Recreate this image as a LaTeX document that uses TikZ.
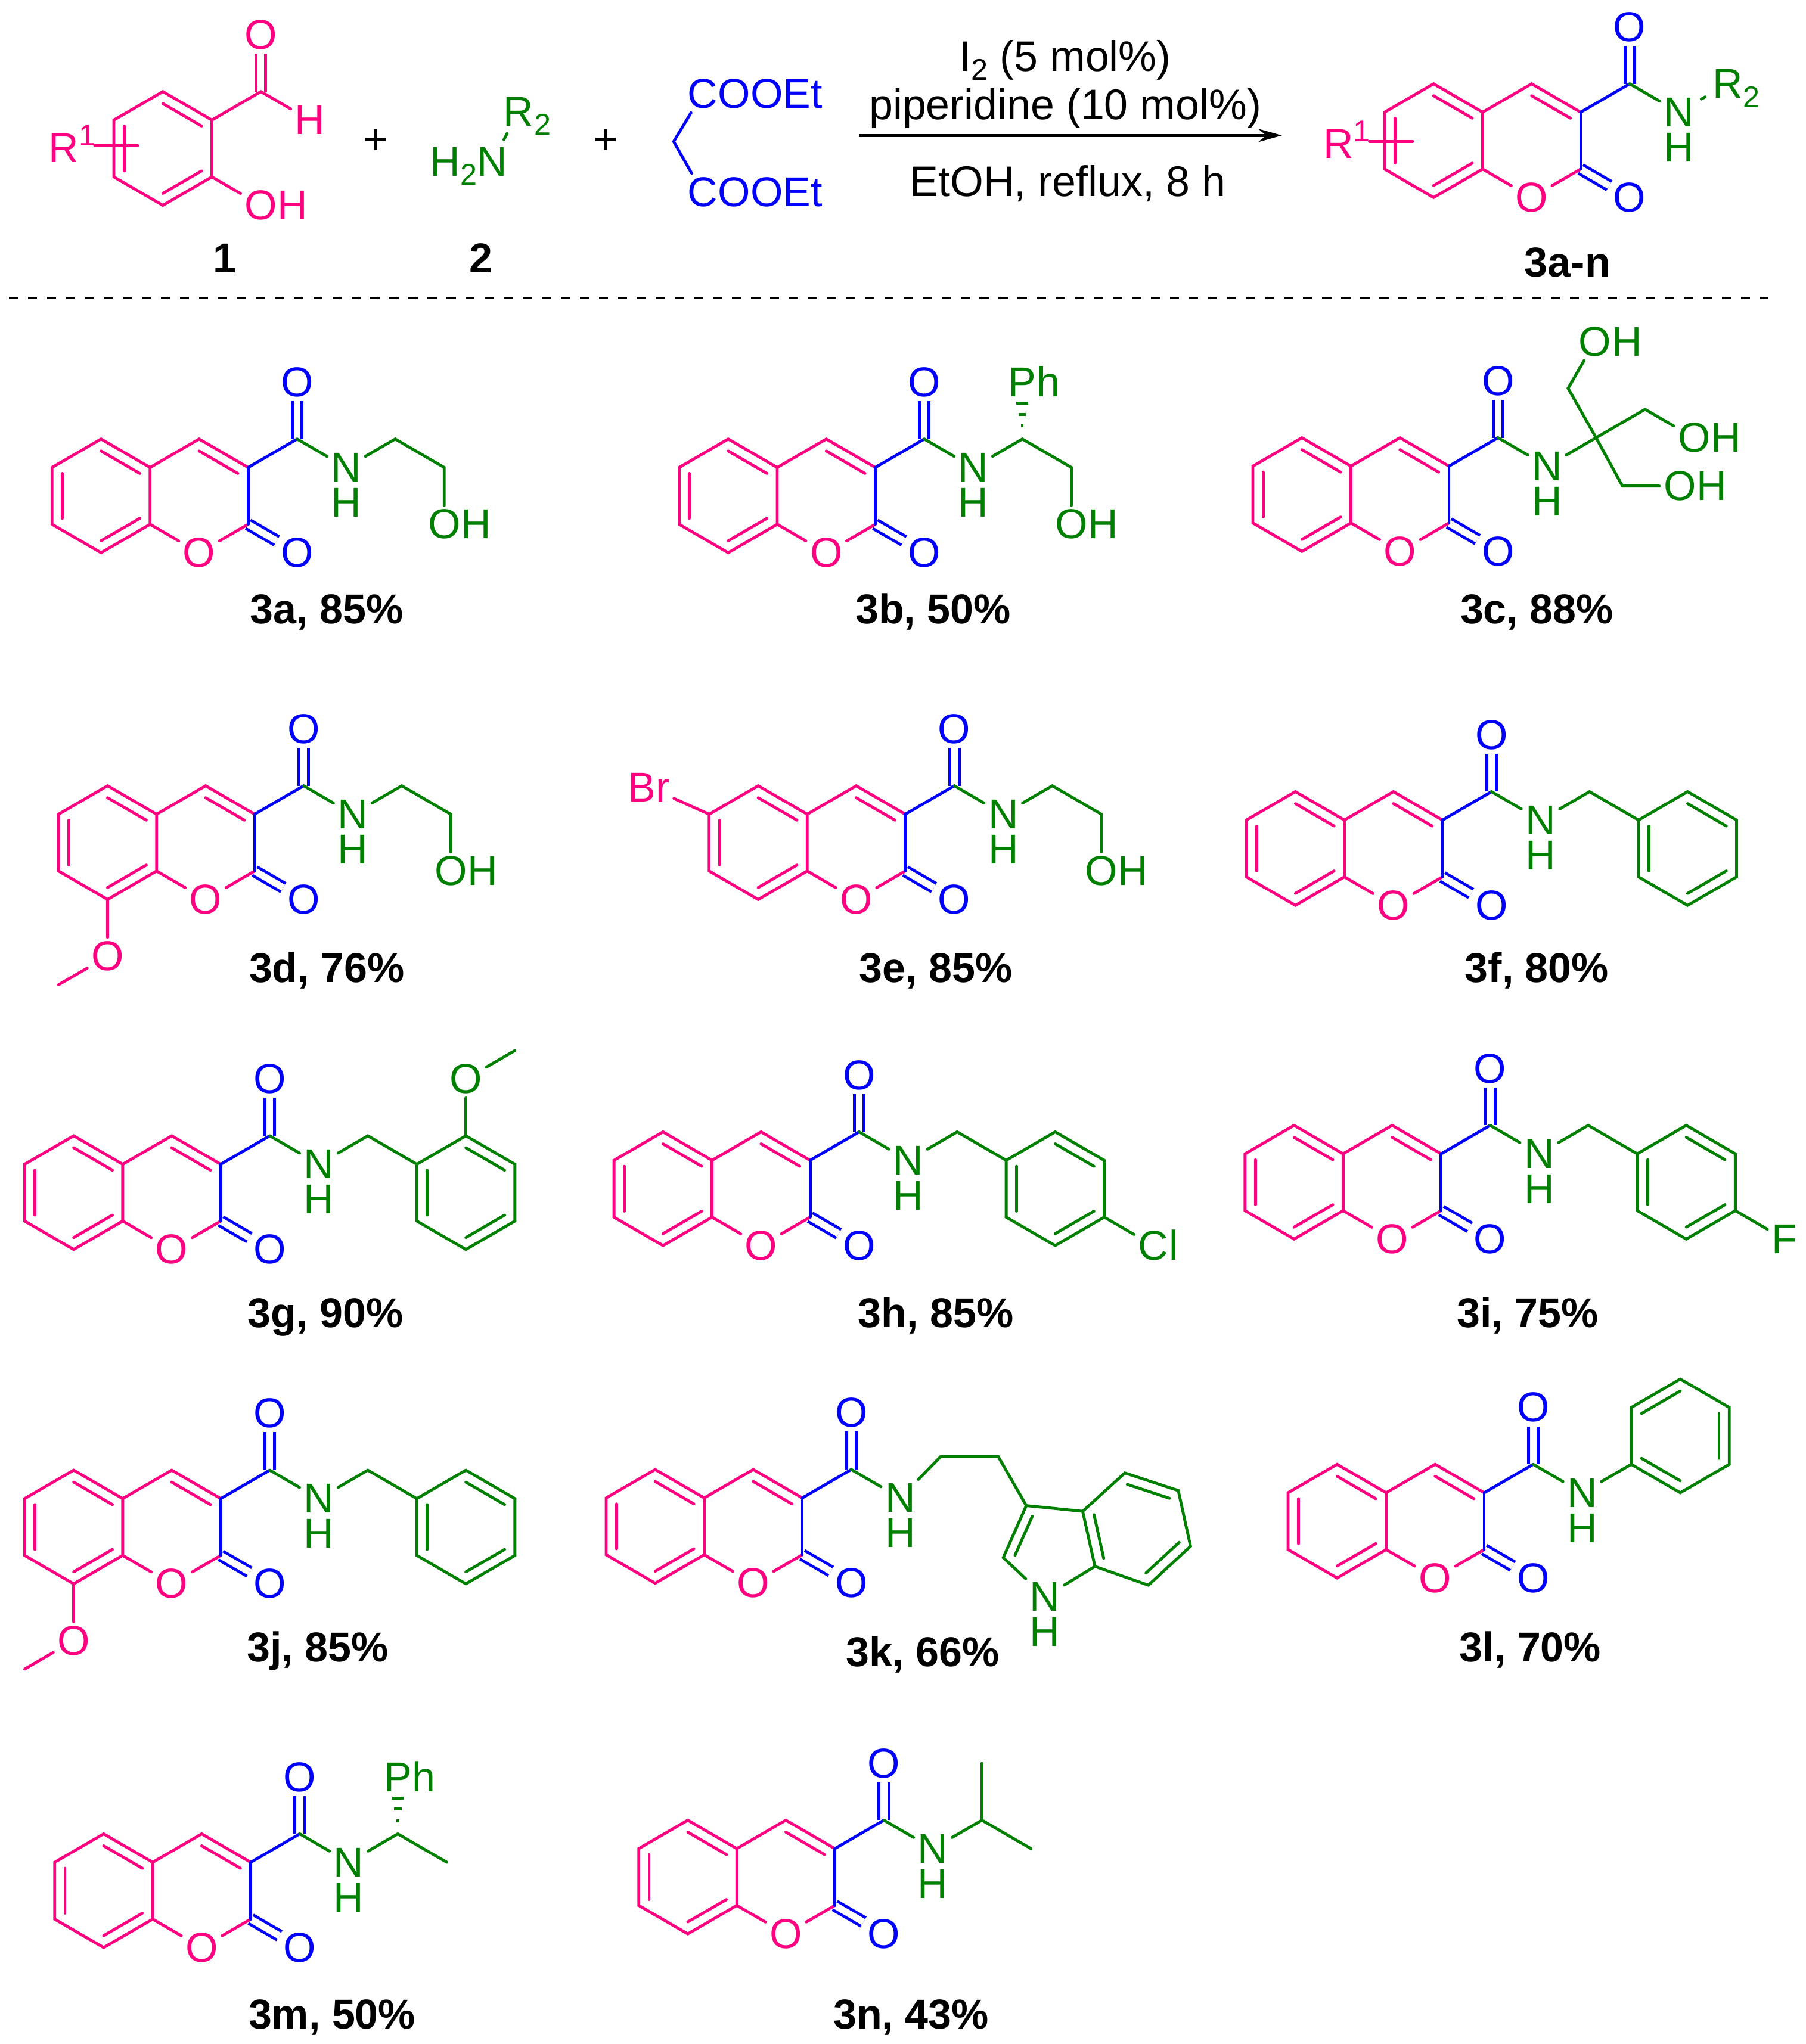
\documentclass[tikz,border=0pt]{standalone}
\usepackage{fontspec}
\setmainfont{Liberation Sans}
\usetikzlibrary{arrows.meta,positioning,calc}
\definecolor{chempink}{RGB}{255,0,128}
\definecolor{chemblue}{RGB}{0,0,255}
\definecolor{chemgreen}{RGB}{0,128,0}
\edef\sizefont{32}
\tikzstyle{atom}=[inner sep=3pt,font=\fontsize{\sizefont}{\sizefont}\selectfont]
\tikzstyle{pinkatom}=[atom,text=chempink]
\tikzstyle{blueatom}=[atom,text=chemblue]
\tikzstyle{greenatom}=[atom,text=chemgreen]
\tikzstyle{bond}=[line width=2.2pt,line cap=round,line join=miter]
\tikzstyle{pinkbond}=[bond,draw=chempink]
\tikzstyle{bluebond}=[bond,draw=chemblue]
\tikzstyle{greenbond}=[bond,draw=chemgreen]
\tikzstyle{twoline}=[line cap=butt,double=white,double distance=5.2pt]
\tikzstyle{hexgrid}=[x=37.6pt,y=-21.8pt]
\tikzstyle{caption}=[inner sep=0pt,anchor=base,font=\fontsize{\sizefont}{\sizefont}\selectfont\bfseries]
\tikzstyle{reagent}=[inner sep=0pt,anchor=base,font=\fontsize{32.8}{32.8}\selectfont]
\newcommand{\chemsup}[1]{\raisebox{13pt}{\fontsize{23}{23}\selectfont #1}}
\newcommand{\chemsub}[1]{\raisebox{-7pt}{\fontsize{23}{23}\selectfont #1}}
\newcommand{\innerbond}[5][0.21]{\draw[#2] ($(#3)!#1!(#5)$) -- ($(#4)!#1!(#5)$);}
\newcommand{\chemgrp}[5]{%
	\node[#1] (#2) at (#3) {#4};
	\node[#1,anchor=base west,inner sep=0pt,xshift=-3pt] (#2r) at (#2.base east) {#5};
}
\newcommand{\hashbond}[1]{%
	\foreach \hy/\hw in {10/1,19/2.8,27.5/4.5}
		\draw[greenbond,line cap=butt] ([xshift=-\hw pt,yshift=\hy pt]#1) -- ([xshift=\hw pt,yshift=\hy pt]#1);
}
\newcommand{\phring}[2]{%
	\coordinate (r1) at ({#1-1},{#2-1});
	\coordinate (r2) at ({#1},{#2-2});
	\coordinate (r3) at ({#1+1},{#2-1});
	\coordinate (r4) at ({#1+1},{#2+1});
	\coordinate (r5) at ({#1},{#2+2});
	\coordinate (r6) at ({#1-1},{#2+1});
	\coordinate (rc) at ({#1},{#2});
	\draw[greenbond] (r1) -- (r2) -- (r3) -- (r4) -- (r5) -- (r6) -- cycle;
}
% ring system shared by all the products
\newcommand{\bicycle}{%
	\coordinate (c5) at (-2,-4);
	\coordinate (c4a) at (-1,-3);
	\coordinate (c8a) at (-1,-1);
	\coordinate (c8) at (-2,0);
	\coordinate (c7) at (-3,-1);
	\coordinate (c6) at (-3,-3);
	\coordinate (c4) at (0,-4);
	\coordinate (c3) at (1,-3);
	\coordinate (c2) at (1,-1);
	\coordinate (cam) at (2,-4);
	\coordinate (bzc) at (-2,-2);
	\coordinate (pyc) at (0,-2);
	\node[pinkatom] (o1) at (0,0) {O};
	\node[blueatom] (oam) at (2,-6) {O};
	\node[blueatom] (olac) at (2,0) {O};
	\node[greenatom] (n) at (3,-3) {N};
	\node[greenatom,inner sep=0pt,below of=n,node distance=27pt] (nh) {H};
	\draw[bluebond,twoline] (cam) -- (oam);
	\draw[bluebond,twoline] (c2) -- (olac);
	\draw[pinkbond] (c5) -- (c4a) -- (c8a) -- (c8) -- (c7) -- (c6) -- cycle;
	\draw[pinkbond] (c4a) -- (c4) -- (c3);
	\draw[pinkbond] (c8a) -- (o1);
	\draw[pinkbond] (o1) -- (c2);
	\innerbond{pinkbond}{c5}{c4a}{bzc}
	\innerbond{pinkbond}{c8a}{c8}{bzc}
	\innerbond{pinkbond}{c4}{c3}{pyc}
	\draw[bluebond] (c3) -- (c2);
	\draw[bluebond] (c3) -- (cam);
	\draw[greenbond] (cam) -- (n);
}
\newcommand{\sixseven}{\innerbond{pinkbond}{c7}{c6}{bzc}}
\newcommand{\ethanol}{%
	\coordinate (ch1) at (4,-4);
	\coordinate (ch2) at (5,-3);
	\chemgrp{greenatom}{oh}{5,-1}{O}{H}
	\draw[greenbond] (n) -- (ch1) -- (ch2) -- (oh);
}
\newcommand{\benzyl}{%
	\coordinate (ch1) at (4,-4);
	\phring{6}{-2}
	\draw[greenbond] (n) -- (ch1) -- (r1);
	\innerbond{greenbond}{r1}{r6}{rc}
	\innerbond{greenbond}{r2}{r3}{rc}
	\innerbond{greenbond}{r4}{r5}{rc}
}
\newcommand{\methoxy}{%
	\node[pinkatom] (ome) at (-2,2) {O};
	\coordinate (me) at (-3,3);
	\draw[pinkbond] (c8) -- (ome);
	\draw[pinkbond] (ome) -- (me);
}

\begin{document}
\begin{tikzpicture}[x=1pt,y=-1pt]
	\useasboundingbox (-0.7,0) rectangle (1384.3,1568);

	% salicylaldehyde
	\begin{scope}[shift={(124.2,157.5)},hexgrid,name prefix=sa-]
		\coordinate (a1) at (0,0);
		\coordinate (a2) at (1,-1);
		\coordinate (a3) at (1,-3);
		\coordinate (a4) at (0,-4);
		\coordinate (a5) at (-1,-3);
		\coordinate (a6) at (-1,-1);
		\coordinate (ac) at (0,-2);
		\coordinate (cho) at (2,-4);
		\node[pinkatom] (oald) at (2,-6) {O};
		\node[pinkatom] (hald) at (3,-3) {H};
		\chemgrp{pinkatom}{oh}{2,0}{O}{H}
		\draw[pinkbond,twoline] (cho) -- (oald);
		\draw[pinkbond] (a1) -- (a2) -- (a3) -- (a4) -- (a5) -- (a6) -- cycle;
		\draw[pinkbond] (a3) -- (cho);
		\draw[pinkbond] (cho) -- (hald);
		\draw[pinkbond] (a2) -- (oh);
		\innerbond{pinkbond}{a4}{a3}{ac}
		\innerbond{pinkbond}{a2}{a1}{ac}
		\innerbond{pinkbond}{a5}{a6}{ac}
	\end{scope}
	\node[pinkatom,anchor=base west,inner sep=0pt] (rone) at (36.5,124.6) {R\chemsup{1}};
	\coordinate (crossa) at (72,111.6);
	\coordinate (crossb) at (105,111.6);
	\draw[pinkbond] (crossa) -- (crossb);

	\node[reagent] (plusa) at (287.3,118) {+};
	\node[reagent] (plusb) at (464,118) {+};

	% amine
	\node[greenatom] (nam) at (377,124) {N};
	\node[greenatom,anchor=base east,inner sep=0pt,xshift=3pt] (hnam) at (nam.base west) {H\chemsub{2}};
	\chemgrp{greenatom}{rtwo}{397,85.6}{R}{\chemsub{2}}
	\draw[greenbond,shorten <=3pt,shorten >=3pt] (nam) -- (rtwo);

	% malonate
	\coordinate (mal) at (516,108.6);
	\chemgrp{blueatom}{esta}{538,72}{C}{OOEt}
	\chemgrp{blueatom}{estb}{538,147.4}{C}{OOEt}
	\draw[bluebond] (esta) -- (mal) -- (estb);

	% arrow
	\coordinate (arra) at (658,103.9);
	\coordinate (arrb) at (982.5,103.9);
	\draw[line width=2.3pt,-{Stealth[length=18pt,width=10pt]}] (arra) -- (arrb);
	\node[reagent] (cata) at (816.3,54.5) {I\chemsub{2} (5 mol\%)};
	\node[reagent] (catb) at (816.3,91.7) {piperidine (10 mol\%)};
	\node[reagent] (cond) at (818.3,150.8) {EtOH, reflux, 8 h};

	% general product
	\begin{scope}[shift={(1174,151.5)},hexgrid,name prefix=pr-]
		\bicycle
		\sixseven
		\chemgrp{greenatom}{rtwo}{4,-4}{R}{\chemsub{2}}
		\draw[greenbond,shorten <=3pt,shorten >=3pt] (n) -- (rtwo);
	\end{scope}
	\node[pinkatom,anchor=base west,inner sep=0pt] (rprod) at (1014,121.4) {R\chemsup{1}};
	\coordinate (crossc) at (1049.5,108.4);
	\coordinate (crossd) at (1082.7,108.4);
	\draw[pinkbond] (crossc) -- (crossd);

	\coordinate (dasha) at (6,228.5);
	\coordinate (dashb) at (1355.5,228.5);
	\draw[line width=1.9pt,dash pattern=on 7pt off 7.6pt] (dasha) -- (dashb);

	% 3a
	\begin{scope}[shift={(152,424)},hexgrid,name prefix=a-]
		\bicycle
		\sixseven
		\ethanol
	\end{scope}
	% 3b
	\begin{scope}[shift={(633,424)},hexgrid,name prefix=b-]
		\bicycle
		\sixseven
		\ethanol
		\chemgrp{greenatom}{ph}{4,-6}{P}{h}
		\hashbond{ch1}
	\end{scope}
	% 3c
	\begin{scope}[shift={(1073,423)},hexgrid,name prefix=c-]
		\bicycle
		\sixseven
		\coordinate (cq) at (4,-4);
		\coordinate (cha) at (3.43,-5.74);
		\coordinate (chb) at (5,-5);
		\coordinate (chc) at (4.54,-2.3);
		\chemgrp{greenatom}{oha}{3.98,-7.39}{O}{H}
		\chemgrp{greenatom}{ohb}{6,-4}{O}{H}
		\chemgrp{greenatom}{ohc}{5.71,-2.3}{O}{H}
		\draw[greenbond] (n) -- (cq);
		\draw[greenbond] (oha) -- (cha) -- (cq) -- (chc) -- (ohc);
		\draw[greenbond] (cq) -- (chb) -- (ohb);
	\end{scope}
	% 3d
	\begin{scope}[shift={(157,690)},hexgrid,name prefix=d-]
		\bicycle
		\sixseven
		\methoxy
		\ethanol
	\end{scope}
	% 3e
	\begin{scope}[shift={(656,690)},hexgrid,name prefix=e-]
		\bicycle
		\sixseven
		\ethanol
		\node[pinkatom] (br) at (-4.23,-3.95) {Br};
		\draw[pinkbond] (c6) -- (br);
	\end{scope}
	% 3f
	\begin{scope}[shift={(1068,694.5)},hexgrid,name prefix=f-]
		\bicycle
		\sixseven
		\benzyl
	\end{scope}
	% 3g
	\begin{scope}[shift={(131,958.5)},hexgrid,name prefix=g-]
		\bicycle
		\sixseven
		\benzyl
		\node[greenatom] (ome) at (6,-6) {O};
		\coordinate (me) at (7,-7);
		\draw[greenbond] (r2) -- (ome);
		\draw[greenbond] (ome) -- (me);
	\end{scope}
	% 3h
	\begin{scope}[shift={(583,955.5)},hexgrid,name prefix=h-]
		\bicycle
		\sixseven
		\benzyl
		\chemgrp{greenatom}{cl}{8,0}{C}{l}
		\draw[greenbond] (r4) -- (cl);
	\end{scope}
	% 3i
	\begin{scope}[shift={(1067,950.5)},hexgrid,name prefix=i-]
		\bicycle
		\sixseven
		\benzyl
		\node[greenatom] (fl) at (8,0) {F};
		\draw[greenbond] (r4) -- (fl);
	\end{scope}
	% 3j
	\begin{scope}[shift={(131,1215)},hexgrid,name prefix=j-]
		\bicycle
		\sixseven
		\methoxy
		\benzyl
	\end{scope}
	% 3k
	\begin{scope}[shift={(577,1214.5)},hexgrid,name prefix=k-]
		\bicycle
		\sixseven
		\coordinate (cha) at (3.82,-4.45);
		\coordinate (chb) at (5,-4.45);
		\coordinate (ind3) at (5.57,-2.73);
		\coordinate (ind3a) at (6.72,-2.53);
		\coordinate (ind4) at (7.58,-3.88);
		\coordinate (ind5) at (8.67,-3.26);
		\coordinate (ind6) at (8.92,-1.3);
		\coordinate (ind7) at (8.06,0.07);
		\coordinate (ind7a) at (6.97,-0.59);
		\coordinate (ind2) at (5.1,-0.9);
		\coordinate (pentc) at (6.06,-1.24);
		\coordinate (hexc) at (7.82,-1.96);
		\node[greenatom] (nind) at (5.95,0.48) {N};
		\node[greenatom,inner sep=0pt,below of=nind,node distance=27pt] (hind) {H};
		\draw[greenbond] (n) -- (cha) -- (chb) -- (ind3);
		\draw[greenbond] (ind3a) -- (ind4) -- (ind5) -- (ind6) -- (ind7) -- (ind7a) -- cycle;
		\draw[greenbond] (nind) -- (ind2) -- (ind3) -- (ind3a);
		\draw[greenbond] (ind7a) -- (nind);
		\innerbond[0.25]{greenbond}{ind3}{ind2}{pentc}
		\innerbond{greenbond}{ind3a}{ind7a}{hexc}
		\innerbond{greenbond}{ind4}{ind5}{hexc}
		\innerbond{greenbond}{ind6}{ind7}{hexc}
	\end{scope}
	% 3l
	\begin{scope}[shift={(1100,1210.5)},hexgrid,name prefix=l-]
		\bicycle
		\sixseven
		\phring{5}{-5}
		\coordinate (ipso) at (4,-4);
		\draw[greenbond] (n) -- (ipso);
		\innerbond{greenbond}{r1}{r2}{rc}
		\innerbond{greenbond}{r3}{r4}{rc}
		\innerbond{greenbond}{r5}{r6}{rc}
	\end{scope}
	% 3m
	\begin{scope}[shift={(154,1494)},hexgrid,name prefix=m-]
		\bicycle
		\sixseven
		\coordinate (ch1) at (4,-4);
		\coordinate (me) at (5,-3);
		\chemgrp{greenatom}{ph}{4,-6}{P}{h}
		\draw[greenbond] (n) -- (ch1) -- (me);
		\hashbond{ch1}
	\end{scope}
	% 3n
	\begin{scope}[shift={(602,1483.5)},hexgrid,name prefix=n-]
		\bicycle
		\sixseven
		\coordinate (ch1) at (4,-4);
		\coordinate (mea) at (4,-6);
		\coordinate (meb) at (5,-3);
		\draw[greenbond] (n) -- (ch1) -- (meb);
		\draw[greenbond] (ch1) -- (mea);
	\end{scope}

	% compound numbers and yields
	\node[caption] (labone) at (171.5,209) {1};
	\node[caption] (labtwo) at (368.3,209) {2};
	\node[caption] (labprod) at (1201.5,212.5) {3a-n};
	\foreach \lx/\ly/\lname/\lyield in {250/467/3a/85,715/467/3b/50,1178/467/3c/88,
		250/742/3d/76,717/742/3e/85,1178/742/3f/80,
		249/1007/3g/90,717/1007/3h/85,1171/1007/3i/75,
		243/1263/3j/85,707/1267/3k/66,1173/1263/3l/70,
		254/1545/3m/50,698/1545/3n/43}
		\node[caption] (lab\lname) at (\lx,\ly+11.5) {\lname, \lyield\%};
\end{tikzpicture}
\end{document}
